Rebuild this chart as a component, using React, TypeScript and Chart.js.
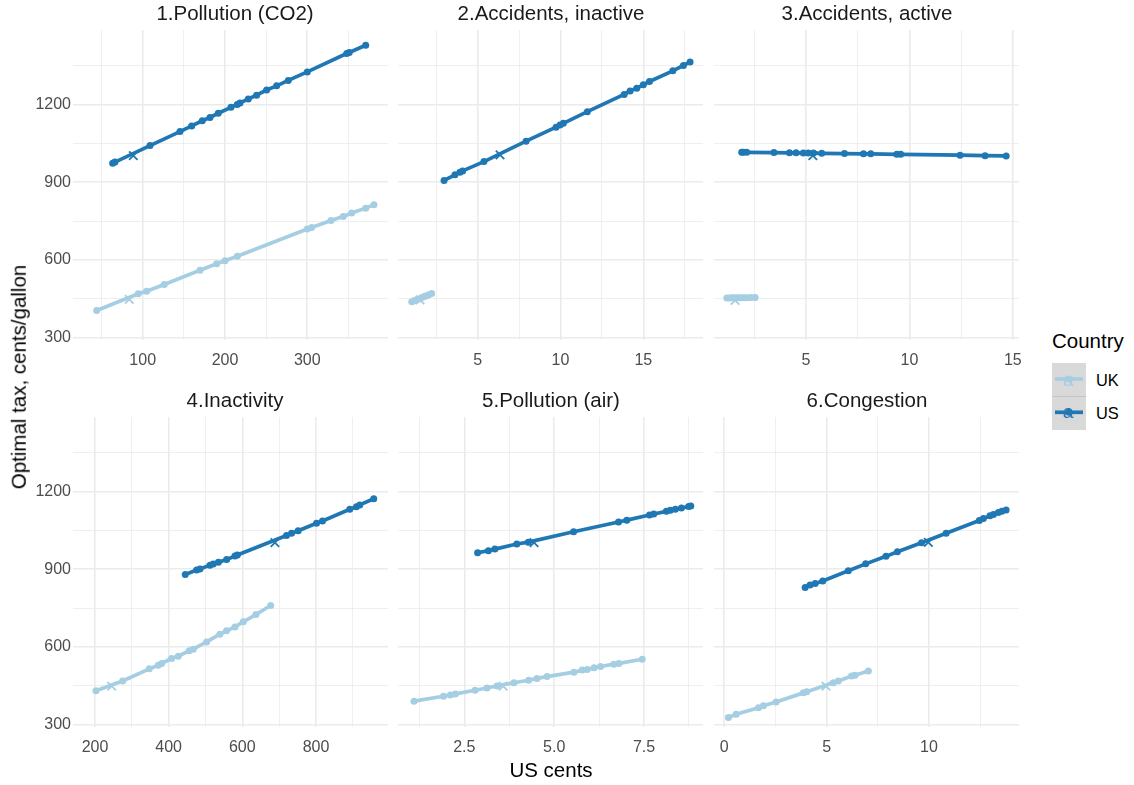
import React, { useEffect, useRef } from "react";
import { Chart, registerables } from "chart.js";

Chart.register(...registerables);

const FONT = "'Liberation Sans', Arial, Helvetica, sans-serif";
const UK_COLOR = "#A6CEE3";
const US_COLOR = "#1F78B4";
const GRID_COLOR = "#EBEBEB";
const TICK_COLOR = "#4D4D4D";

// ---------- text ----------
const PANEL_TITLES = [
  "1.Pollution (CO2)",
  "2.Accidents, inactive",
  "3.Accidents, active",
  "4.Inactivity",
  "5.Pollution (air)",
  "6.Congestion",
];
const X_TITLE = "US cents";
const Y_TITLE = "Optimal tax, cents/gallon";
const LEGEND_TITLE = "Country";
const SERIES_NAMES = ["UK", "US"];

// ---------- shared y axis ----------
const Y_MAJOR = [300, 600, 900, 1200];
const Y_MINOR = [450, 750, 1050, 1350];
const Y_LABELS = ["300", "600", "900", "1200"];
const Y_RANGE = [290, 1489];

// ---------- panel 1: Pollution (CO2) ----------
const P1_US_X = [63.5, 66.3, 108.9, 145.3, 159.5, 172.4, 181.8, 191.8, 207.3, 214.9, 218.2, 228.3, 238.4, 250.6, 262.8, 276.9, 300, 347.9, 351, 371];
const P1_US_Y = [974, 978, 1042, 1096, 1118, 1138, 1151, 1167, 1190, 1201, 1207, 1222, 1237, 1257, 1273, 1294, 1327, 1398, 1402, 1430];
const P1_UK_X = [44.1, 94.6, 104.8, 126.2, 169.6, 189.9, 200, 215, 300, 305.3, 328.8, 343.7, 353.9, 371, 381];
const P1_UK_Y = [404, 469, 479, 505, 560, 585, 597, 614, 719, 725, 752, 768, 781, 800, 813];
const P1_MARK_X = [83.7, 88.6]; // UK, US
const P1_MARK_Y = [447, 1003];
const P1_X_MAJOR = [100, 200, 300];
const P1_X_MINOR = [50, 150, 250, 350];
const P1_X_LABELS = ["100", "200", "300"];
const P1_X_RANGE = [15.3, 398.1];

// ---------- panel 2: Accidents, inactive ----------
const P2_US_X = [2.97, 3.63, 3.93, 4.09, 5.38, 7.92, 9.73, 9.97, 10.17, 11.62, 13.84, 14.2, 14.6, 15.0, 15.37, 16.78, 17.42, 17.82];
const P2_US_Y = [907, 929, 939, 944, 980, 1059, 1113, 1122, 1128, 1173, 1240, 1253, 1264, 1277, 1290, 1331, 1352, 1365];
const P2_UK_X = [1.02, 1.12, 1.25, 1.38, 1.5, 1.63, 1.78, 1.92, 2.05, 2.22];
const P2_UK_Y = [438, 441, 444, 448, 450, 454, 458, 461, 465, 470];
const P2_MARK_X = [1.52, 6.35];
const P2_MARK_Y = [445, 1006];
const P2_X_MAJOR = [5, 10, 15];
const P2_X_MINOR = [2.5, 7.5, 12.5, 17.5];
const P2_X_LABELS = ["5", "10", "15"];
const P2_X_RANGE = [0.19, 18.6];

// ---------- panel 3: Accidents, active ----------
const P3_US_X = [1.89, 1.97, 2.13, 3.45, 4.2, 4.52, 4.87, 5.11, 5.36, 5.76, 6.86, 7.78, 8.13, 9.39, 9.58, 12.45, 13.66, 14.68];
const P3_US_Y = [1016, 1016, 1016, 1015, 1014, 1014, 1013, 1013, 1013, 1012, 1011, 1010, 1010, 1008, 1008, 1005, 1003, 1002];
const P3_UK_X = [1.17, 1.3, 1.42, 1.55, 1.68, 1.8, 1.93, 2.05, 2.2, 2.35, 2.54];
const P3_UK_Y = [452, 452, 453, 453, 453, 453, 453, 453, 453, 454, 454];
const P3_MARK_X = [1.57, 5.33];
const P3_MARK_Y = [443, 1003];
const P3_X_MAJOR = [5, 10, 15];
const P3_X_MINOR = [2.5, 7.5, 12.5];
const P3_X_LABELS = ["5", "10", "15"];
const P3_X_RANGE = [0.55, 15.3];

// ---------- panel 4: Inactivity ----------
const P4_US_X = [445.1, 476, 485, 512, 521, 535, 557.5, 580, 586.5, 720, 733.6, 751.6, 801.4, 817.6, 891.8, 909.8, 918.8, 956.8];
const P4_US_Y = [880, 897, 901, 916, 920, 927, 938, 951, 955, 1031, 1039, 1049, 1078, 1087, 1132, 1142, 1149, 1173];
const P4_UK_X = [202.7, 275, 347.4, 371.8, 381, 408, 426, 455.8, 466.7, 503, 539, 557, 580, 602.6, 637, 677];
const P4_UK_Y = [430, 468, 515, 529, 536, 555, 564, 585, 591, 619, 649, 662, 677, 697, 725, 760];
const P4_MARK_X = [245.3, 688.5];
const P4_MARK_Y = [448, 1003];
const P4_X_MAJOR = [200, 400, 600, 800];
const P4_X_MINOR = [300, 500, 700, 900];
const P4_X_LABELS = ["200", "400", "600", "800"];
const P4_X_RANGE = [140.3, 995.5];

// ---------- panel 5: Pollution (air) ----------
const P5_US_X = [2.87, 3.17, 3.35, 3.96, 4.28, 5.54, 6.79, 7.02, 7.65, 7.77, 8.12, 8.23, 8.37, 8.54, 8.74, 8.8];
const P5_US_Y = [964, 972, 978, 998, 1005, 1045, 1083, 1090, 1110, 1114, 1124, 1128, 1132, 1137, 1143, 1145];
const P5_UK_X = [1.1, 1.92, 2.11, 2.25, 2.8, 3.13, 3.41, 3.88, 4.29, 4.52, 4.8, 5.55, 5.78, 5.92, 6.11, 6.29, 6.66, 6.8, 7.45];
const P5_UK_Y = [390, 409, 414, 418, 432, 441, 449, 461, 471, 478, 485, 502, 510, 512, 519, 524, 533, 536, 552];
const P5_MARK_X = [3.58, 4.44];
const P5_MARK_Y = [448, 1003];
const P5_X_MAJOR = [2.5, 5, 7.5];
const P5_X_MINOR = [1.25, 3.75, 6.25, 8.75];
const P5_X_LABELS = ["2.5", "5.0", "7.5"];
const P5_X_RANGE = [0.655, 9.14];

// ---------- panel 6: Congestion ----------
const P6_US_X = [3.95, 4.19, 4.44, 4.81, 6.06, 6.91, 7.9, 8.46, 9.64, 10.84, 12.46, 12.66, 12.98, 13.15, 13.39, 13.56, 13.77];
const P6_US_Y = [830, 839, 845, 855, 894, 921, 950, 968, 1003, 1039, 1089, 1096, 1107, 1112, 1120, 1124, 1129];
const P6_UK_X = [0.2, 0.58, 1.67, 1.91, 2.53, 3.86, 4.03, 5.33, 5.57, 6.22, 6.39, 7.04];
const P6_UK_Y = [327, 339, 364, 372, 387, 422, 426, 461, 468, 487, 490, 507];
const P6_MARK_X = [4.97, 9.97];
const P6_MARK_Y = [448, 1004];
const P6_X_MAJOR = [0, 5, 10];
const P6_X_MINOR = [2.5, 7.5, 12.5];
const P6_X_LABELS = ["0", "5", "10"];
const P6_X_RANGE = [-0.503, 14.4];

// ---------- layout (pixels) ----------
const COL_LEFT = [73, 398, 714];
const COL_RIGHT = [388, 703, 1019];
const ROW_TOP = [30, 417];
const ROW_BOTTOM = [340, 727];
const TITLE_CENTER_X = [235, 551, 867];
const TITLE_TOP = [3.3, 390];
const PAD_L = 60;
const PAD_R = 20;
const PAD_T = 14;
const PAD_B = 30;

type Panel = {
  ukX: number[]; ukY: number[]; usX: number[]; usY: number[];
  markX: number[]; markY: number[];
  xMajor: number[]; xMinor: number[]; xLabels: string[]; xRange: number[];
};

const PANELS: Panel[] = [
  { ukX: P1_UK_X, ukY: P1_UK_Y, usX: P1_US_X, usY: P1_US_Y, markX: P1_MARK_X, markY: P1_MARK_Y, xMajor: P1_X_MAJOR, xMinor: P1_X_MINOR, xLabels: P1_X_LABELS, xRange: P1_X_RANGE },
  { ukX: P2_UK_X, ukY: P2_UK_Y, usX: P2_US_X, usY: P2_US_Y, markX: P2_MARK_X, markY: P2_MARK_Y, xMajor: P2_X_MAJOR, xMinor: P2_X_MINOR, xLabels: P2_X_LABELS, xRange: P2_X_RANGE },
  { ukX: P3_UK_X, ukY: P3_UK_Y, usX: P3_US_X, usY: P3_US_Y, markX: P3_MARK_X, markY: P3_MARK_Y, xMajor: P3_X_MAJOR, xMinor: P3_X_MINOR, xLabels: P3_X_LABELS, xRange: P3_X_RANGE },
  { ukX: P4_UK_X, ukY: P4_UK_Y, usX: P4_US_X, usY: P4_US_Y, markX: P4_MARK_X, markY: P4_MARK_Y, xMajor: P4_X_MAJOR, xMinor: P4_X_MINOR, xLabels: P4_X_LABELS, xRange: P4_X_RANGE },
  { ukX: P5_UK_X, ukY: P5_UK_Y, usX: P5_US_X, usY: P5_US_Y, markX: P5_MARK_X, markY: P5_MARK_Y, xMajor: P5_X_MAJOR, xMinor: P5_X_MINOR, xLabels: P5_X_LABELS, xRange: P5_X_RANGE },
  { ukX: P6_UK_X, ukY: P6_UK_Y, usX: P6_US_X, usY: P6_US_Y, markX: P6_MARK_X, markY: P6_MARK_Y, xMajor: P6_X_MAJOR, xMinor: P6_X_MINOR, xLabels: P6_X_LABELS, xRange: P6_X_RANGE },
];

const pts = (xs: number[], ys: number[]) => xs.map((x, i) => ({ x, y: ys[i] }));

function PanelChart({ index }: { index: number }) {
  const ref = useRef<HTMLCanvasElement | null>(null);
  const p = PANELS[index];
  const col = index % 3;
  const row = Math.floor(index / 3);
  const left = COL_LEFT[col] - PAD_L;
  const top = ROW_TOP[row] - PAD_T;
  const width = COL_RIGHT[col] - COL_LEFT[col] + PAD_L + PAD_R;
  const height = ROW_BOTTOM[row] - ROW_TOP[row] + PAD_T + PAD_B;
  const showY = col === 0;

  useEffect(() => {
    if (!ref.current) return;
    const seriesStyle = (color: string) => ({
      showLine: true,
      borderColor: color,
      backgroundColor: color,
      borderWidth: 3.7,
      pointRadius: 3.5,
      pointHoverRadius: 3.5,
      pointBorderWidth: 0,
      tension: 0,
    });
    const markStyle = (color: string) => ({
      showLine: false,
      pointStyle: "crossRot" as const,
      pointRadius: 6,
      pointHoverRadius: 6,
      borderColor: color,
      backgroundColor: color,
      pointBorderWidth: 1.8,
    });
    const chart = new Chart(ref.current, {
      type: "scatter",
      data: {
        datasets: [
          { label: "US mark", data: [{ x: p.markX[1], y: p.markY[1] }], ...markStyle(US_COLOR) },
          { label: "UK mark", data: [{ x: p.markX[0], y: p.markY[0] }], ...markStyle(UK_COLOR) },
          { label: SERIES_NAMES[1], data: pts(p.usX, p.usY), ...seriesStyle(US_COLOR) },
          { label: SERIES_NAMES[0], data: pts(p.ukX, p.ukY), ...seriesStyle(UK_COLOR) },
        ],
      },
      options: {
        animation: false,
        responsive: false,
        events: [],
        layout: { padding: { top: PAD_T, right: PAD_R, left: 0, bottom: 0 } },
        plugins: { legend: { display: false }, tooltip: { enabled: false }, title: { display: false } },
        scales: {
          x: {
            type: "linear",
            min: p.xRange[0],
            max: p.xRange[1],
            afterFit: (s: any) => { s.height = PAD_B; },
            afterBuildTicks: (s: any) => {
              s.ticks = [...p.xMajor, ...p.xMinor].sort((a, b) => a - b).map((v) => ({ value: v }));
            },
            border: { display: false },
            grid: {
              color: GRID_COLOR,
              drawTicks: false,
              lineWidth: (ctx: any) => (p.xMajor.includes(ctx.tick?.value) ? 1.6 : 0.8),
            },
            ticks: {
              autoSkip: false,
              maxRotation: 0,
              padding: 11,
              color: TICK_COLOR,
              font: { family: FONT, size: 16 },
              callback: (v: any) => {
                const i = p.xMajor.indexOf(v);
                return i >= 0 ? p.xLabels[i] : "";
              },
            },
          },
          y: {
            type: "linear",
            min: Y_RANGE[0],
            max: Y_RANGE[1],
            afterFit: (s: any) => { s.width = PAD_L; },
            afterBuildTicks: (s: any) => {
              s.ticks = [...Y_MAJOR, ...Y_MINOR].sort((a, b) => a - b).map((v) => ({ value: v }));
            },
            border: { display: false },
            grid: {
              color: GRID_COLOR,
              drawTicks: false,
              lineWidth: (ctx: any) => (Y_MAJOR.includes(ctx.tick?.value) ? 1.6 : 0.8),
            },
            ticks: {
              display: showY,
              autoSkip: false,
              padding: 2,
              color: TICK_COLOR,
              font: { family: FONT, size: 16 },
              callback: (v: any) => {
                const i = Y_MAJOR.indexOf(v);
                return i >= 0 ? Y_LABELS[i] : "";
              },
            },
          },
        },
      },
    } as any);
    return () => chart.destroy();
  }, [index]);

  return (
    <canvas
      ref={ref}
      width={width}
      height={height}
      style={{ position: "absolute", left, top, width, height }}
    />
  );
}

function Text({ children, style }: { children: React.ReactNode; style: React.CSSProperties }) {
  return (
    <div
      style={{
        position: "absolute",
        fontFamily: FONT,
        lineHeight: 1,
        whiteSpace: "nowrap",
        ...style,
      }}
    >
      {children}
    </div>
  );
}

export default function App() {
  return (
    <div
      style={{
        position: "absolute",
        left: 0,
        top: 0,
        width: 1134,
        height: 785,
        background: "#FFFFFF",
        overflow: "hidden",
      }}
    >
      {PANELS.map((_, i) => (
        <PanelChart key={i} index={i} />
      ))}
      {PANEL_TITLES.map((t, i) => (
        <Text
          key={t}
          style={{
            left: TITLE_CENTER_X[i % 3],
            top: TITLE_TOP[Math.floor(i / 3)],
            fontSize: 20.5,
            color: "#1A1A1A",
            transform: "translateX(-50%)",
          }}
        >
          {t}
        </Text>
      ))}
      <Text style={{ left: 551, top: 760, fontSize: 20.5, color: "#000", transform: "translateX(-50%)" }}>
        {X_TITLE}
      </Text>
      <Text
        style={{
          left: 18.9,
          top: 377,
          fontSize: 20.5,
          color: "#000",
          transform: "translate(-50%, -50%) rotate(-90deg)",
        }}
      >
        {Y_TITLE}
      </Text>
      {/* legend */}
      <Text style={{ left: 1052, top: 330.6, fontSize: 20.5, color: "#000" }}>{LEGEND_TITLE}</Text>
      <svg
        width={34}
        height={67}
        style={{ position: "absolute", left: 1052, top: 363 }}
      >
        <rect x={0} y={0} width={34} height={67} fill="#D9D9D9" />
        <line x1={0} x2={34} y1={33.5} y2={33.5} stroke="#C4C4C4" strokeWidth={1} />
        <line x1={3} x2={31} y1={16} y2={16} stroke={UK_COLOR} strokeWidth={3.7} />
        <circle cx={17} cy={16} r={3.5} fill={UK_COLOR} />
        <text x={16} y={22.7} fontSize={19} fontFamily={FONT} fill={UK_COLOR} textAnchor="middle">a</text>
        <line x1={3} x2={31} y1={49.3} y2={49.3} stroke={US_COLOR} strokeWidth={3.7} />
        <circle cx={17} cy={49.3} r={3.5} fill={US_COLOR} />
        <text x={16} y={55.3} fontSize={19} fontFamily={FONT} fill={US_COLOR} textAnchor="middle">a</text>
      </svg>
      <Text style={{ left: 1096, top: 372, fontSize: 16.4, color: "#000" }}>{SERIES_NAMES[0]}</Text>
      <Text style={{ left: 1096, top: 405.3, fontSize: 16.4, color: "#000" }}>{SERIES_NAMES[1]}</Text>
    </div>
  );
}
